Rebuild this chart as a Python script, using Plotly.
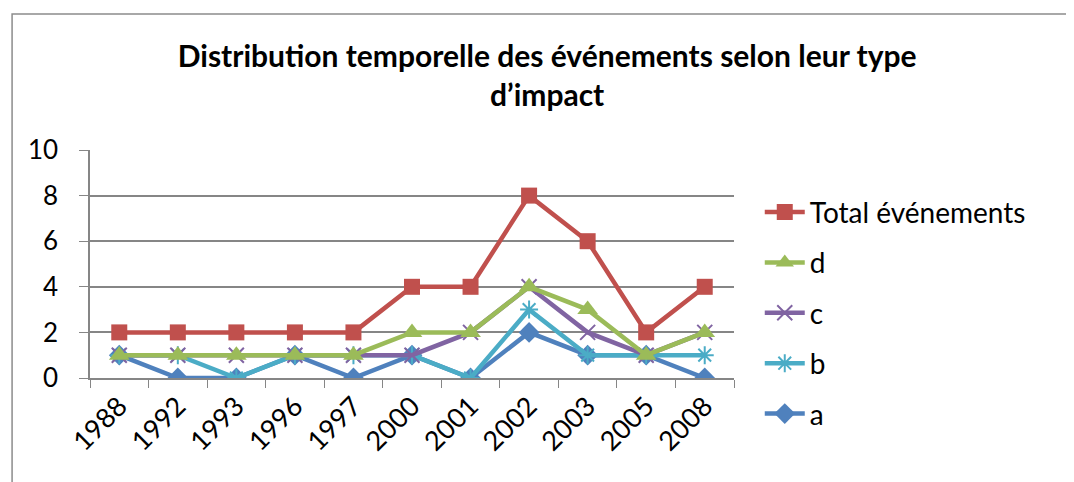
import plotly.graph_objects as go

# ---------- données ----------
annees = ["1988", "1992", "1993", "1996", "1997", "2000", "2001", "2002", "2003", "2005", "2008"]
total = [2, 2, 2, 2, 2, 4, 4, 8, 6, 2, 4]
type_d = [1, 1, 1, 1, 1, 2, 2, 4, 3, 1, 2]
type_c = [1, 1, 1, 1, 1, 1, 2, 4, 2, 1, 2]
type_b = [1, 1, 0, 1, 1, 1, 0, 3, 1, 1, 1]
type_a = [1, 0, 0, 1, 0, 1, 0, 2, 1, 1, 0]

FONT = "Lato, Calibri, sans-serif"

# ordre de dessin : a en dessous, Total au-dessus ; rang de légende inverse
series = [
    ("a", type_a, "#4F81BD", dict(symbol="diamond", size=16), 5),
    ("b", type_b, "#4BACC6", dict(symbol="asterisk-open", size=15, line=dict(width=2, color="#4BACC6")), 4),
    ("c", type_c, "#8064A2", dict(symbol="x-thin-open", size=15, line=dict(width=2, color="#8064A2")), 3),
    ("d", type_d, "#9BBB59", dict(symbol="triangle-up", size=18), 2),
    ("Total événements", total, "#C0504D", dict(symbol="square", size=16), 1),
]

fig = go.Figure()
for nom, vals, couleur, mk, rang in series:
    mk = dict(mk)
    mk.setdefault("color", couleur)
    fig.add_trace(go.Scatter(
        x=annees, y=vals, name=nom, legendgroup=nom, legendrank=rang,
        mode="lines+markers",
        line=dict(color=couleur, width=4.5),
        marker=mk,
    ))

# cadre extérieur du graphique
fig.add_shape(type="rect", xref="paper", yref="paper",
              x0=-0.121, x1=1.53, y0=-0.46, y1=1.596,
              line=dict(color="#8c8c8c", width=1.5), fillcolor="rgba(0,0,0,0)")

# la page ajoute ~8 px de marge au corps : on compense dans les marges
fig.update_layout(
    width=1074, height=482,
    paper_bgcolor="white", plot_bgcolor="white",
    margin=dict(l=82, r=348, t=142, b=112, autoexpand=False),
    font=dict(family=FONT, color="black"),
    title=dict(
        text="<b>Distribution temporelle des événements selon leur type<br>d’impact</b>",
        x=0.502, xanchor="center", xref="container",
        y=1 - 59 / 482, yanchor="top", yref="container",
        font=dict(size=30, family=FONT),
    ),
    legend=dict(
        traceorder="grouped", tracegroupgap=11,
        x=1.04, xanchor="left", xref="paper",
        y=0.628, yanchor="top", yref="container",
        maxheight=1,
        font=dict(size=28, family=FONT),
        itemwidth=40,
    ),
    showlegend=True,
)

fig.update_xaxes(
    type="category", range=[-0.5, 10.5],
    showgrid=False, showline=True, linecolor="#868686", linewidth=1.5,
    ticks="outside", tickson="boundaries", ticklen=8, tickcolor="#868686",
    tickangle=-45, tickfont=dict(size=27, family=FONT),
)
fig.update_yaxes(
    range=[0, 10], dtick=2,
    showgrid=True, gridcolor="#868686", gridwidth=1.5,
    showline=True, linecolor="#868686", linewidth=1.5,
    ticks="outside", ticklen=9, tickcolor="#868686",
    zeroline=False, ticklabelstandoff=16,
    tickfont=dict(size=26, family=FONT),
)

fig.write_html("out.html")
